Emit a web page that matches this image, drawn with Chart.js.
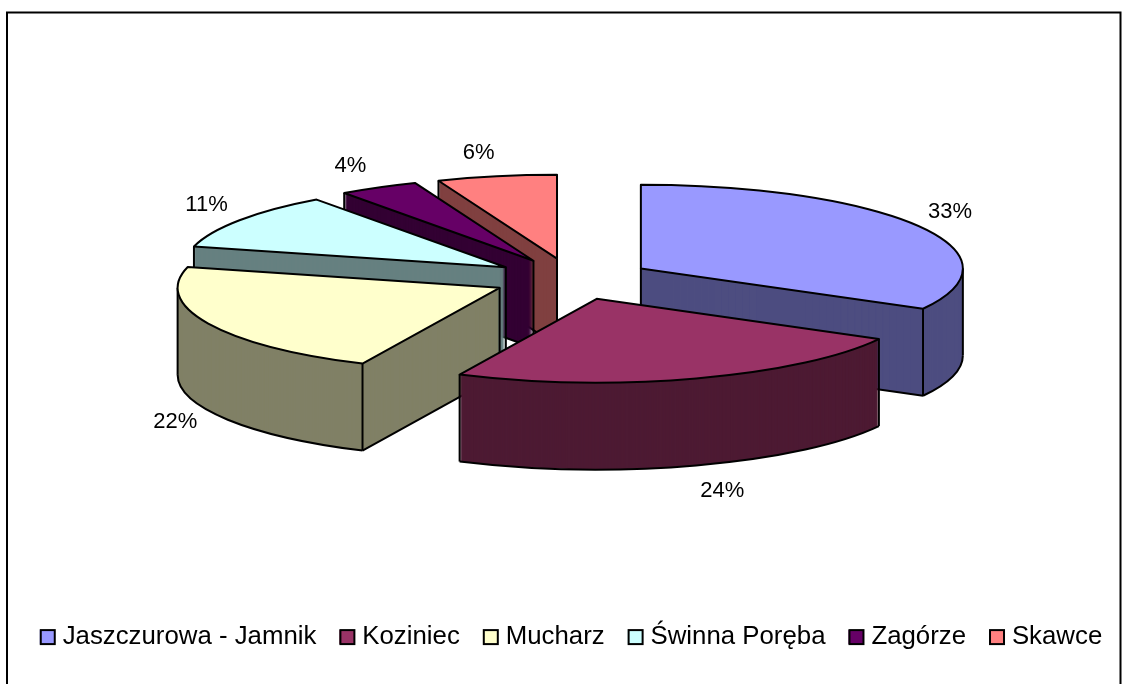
<!DOCTYPE html>
<html>
<head>
<meta charset="utf-8">
<style>html,body{margin:0;padding:0;background:#fff}#w{width:1126px;height:684px;position:relative}</style>
<script src="https://cdn.jsdelivr.net/npm/chart.js@4"></script>
</head>
<body>
<div id="w"><canvas id="c" width="1126" height="684"></canvas></div>
<script>
const categories = ['Jaszczurowa - Jamnik','Koziniec','Mucharz','Świnna Poręba','Zagórze','Skawce'];
const values = [33,24,22,11,4,6];
const pointLabels = ['33%','24%','22%','11%','4%','6%'];
const topColors = ['#9999FF','#993366','#FFFFCC','#CCFFFF','#660066','#FF8080'];
const sideColors = ['#4D4D80','#4D1A33','#808066','#668080','#330033','#804040'];
const drawOrder = [0,5,4,3,2,1];
const labelNudge = [[32,-14],[26,26],[-33,11],[-33,-15],[-28,-21],[-18,-23]];

const BASE_X = 572, BASE_Y = 279, RADIUS = 322, SQUASH = 0.26, EXPLODE = 80, DEPTH = 87;

function geom(arc){
  const mid = (arc.startAngle+arc.endAngle)/2;
  return {mid, cx: BASE_X+Math.cos(mid)*EXPLODE, cy: BASE_Y+Math.sin(mid)*EXPLODE*SQUASH,
          r: arc.outerRadius, s: arc.startAngle, e: arc.endAngle};
}
function rim(g,a,d){return [g.cx+g.r*Math.cos(a), g.cy+g.r*SQUASH*Math.sin(a)+(d||0)];}
function wedge(ctx,g,d){
  ctx.beginPath();
  ctx.moveTo(g.cx,g.cy+d);
  ctx.ellipse(g.cx,g.cy+d,g.r,g.r*SQUASH,0,g.s,g.e);
  ctx.closePath();
}
function seg(ctx,a,b){ctx.beginPath();ctx.moveTo(a[0],a[1]);ctx.lineTo(b[0],b[1]);ctx.stroke();}
function drawSlice(ctx,arc,i){
  const g = geom(arc);
  ctx.fillStyle = sideColors[i];
  for(let d=DEPTH;d>=1;d--){wedge(ctx,g,d);ctx.fill();}
  ctx.strokeStyle='#000';ctx.lineWidth=2;ctx.lineJoin='round';
  const sFaceVisible = Math.cos(g.s) < -1e-6;   // start wall looks toward the viewer
  const eFaceVisible = Math.cos(g.e) > 1e-6;    // end wall looks toward the viewer
  const apex=[g.cx,g.cy];
  const vert=p=>seg(ctx,p,[p[0],p[1]+DEPTH]);
  if(sFaceVisible||eFaceVisible){vert(apex);}
  if(sFaceVisible){seg(ctx,[g.cx,g.cy+DEPTH],rim(g,g.s,DEPTH));}
  if(eFaceVisible){seg(ctx,[g.cx,g.cy+DEPTH],rim(g,g.e,DEPTH));}
  if(sFaceVisible||Math.sin(g.s)>0){vert(rim(g,g.s));}
  if(eFaceVisible||Math.sin(g.e)>0){vert(rim(g,g.e));}
  // lower rim of the curved wall and its silhouette edges
  const lo=Math.max(g.s,0), hi=Math.min(g.e,Math.PI);
  if(hi>lo){
    ctx.beginPath();ctx.ellipse(g.cx,g.cy+DEPTH,g.r,g.r*SQUASH,0,lo,hi);ctx.stroke();
    if(lo===0){vert(rim(g,0));}
    if(hi===Math.PI){vert(rim(g,Math.PI));}
  }
  // top face, drawn by the library's arc element through a squash
  ctx.save();
  ctx.translate(g.cx,g.cy);ctx.scale(1,SQUASH);ctx.translate(-arc.x,-arc.y);
  arc.draw(ctx);
  ctx.restore();
  wedge(ctx,g,0);ctx.stroke();
}

const pie3d = {
  id:'pie3d',
  beforeDraw(chart){
    const ctx=chart.ctx;
    ctx.save();
    ctx.fillStyle='#fff';ctx.fillRect(0,0,chart.width,chart.height);
    ctx.strokeStyle='#000';ctx.lineWidth=2;
    ctx.strokeRect(7,12.5,1113.5,700);
    ctx.restore();
  },
  beforeDatasetsDraw(chart){
    const ctx=chart.ctx, arcs=chart.getDatasetMeta(0).data;
    ctx.save();
    drawOrder.forEach(i=>drawSlice(ctx,arcs[i],i));
    ctx.restore();
    return false;
  },
  afterDraw(chart){
    const ctx=chart.ctx, arcs=chart.getDatasetMeta(0).data, lg=chart.legend;
    ctx.save();
    ctx.fillStyle='#000';ctx.textAlign='center';ctx.textBaseline='middle';
    ctx.font='22px "Liberation Sans"';
    arcs.forEach((arc,i)=>{
      const g=geom(arc);
      const lower=Math.sin(g.mid)>0?DEPTH:0;
      const p=rim(g,g.mid,lower);
      ctx.fillText(pointLabels[i],p[0]+labelNudge[i][0],p[1]+labelNudge[i][1]);
    });
    // widen the legend keys to their full square size
    lg.legendHitBoxes.forEach((b,i)=>{
      const y=b.top+(b.height-14)/2;
      ctx.fillStyle=lg.legendItems[i].fillStyle;
      ctx.strokeStyle='#000';ctx.lineWidth=2;
      ctx.fillRect(b.left+1,y,14,14);ctx.strokeRect(b.left+1,y,14,14);
    });
    ctx.restore();
  }
};

new Chart(document.getElementById('c'),{
  type:'pie',
  plugins:[pie3d],
  data:{labels:categories,datasets:[{data:values,backgroundColor:topColors,borderWidth:0,radius:RADIUS}]},
  options:{
    responsive:false,animation:false,
    layout:{padding:{left:-2,right:-18,top:0,bottom:24}},
    plugins:{
      tooltip:{enabled:false},
      legend:{position:'bottom',labels:{
        font:{family:'"Liberation Sans"',size:25.8},color:'#000',
        boxWidth:10,boxHeight:14,padding:23
      }}
    }
  }
});
</script>
</body>
</html>
